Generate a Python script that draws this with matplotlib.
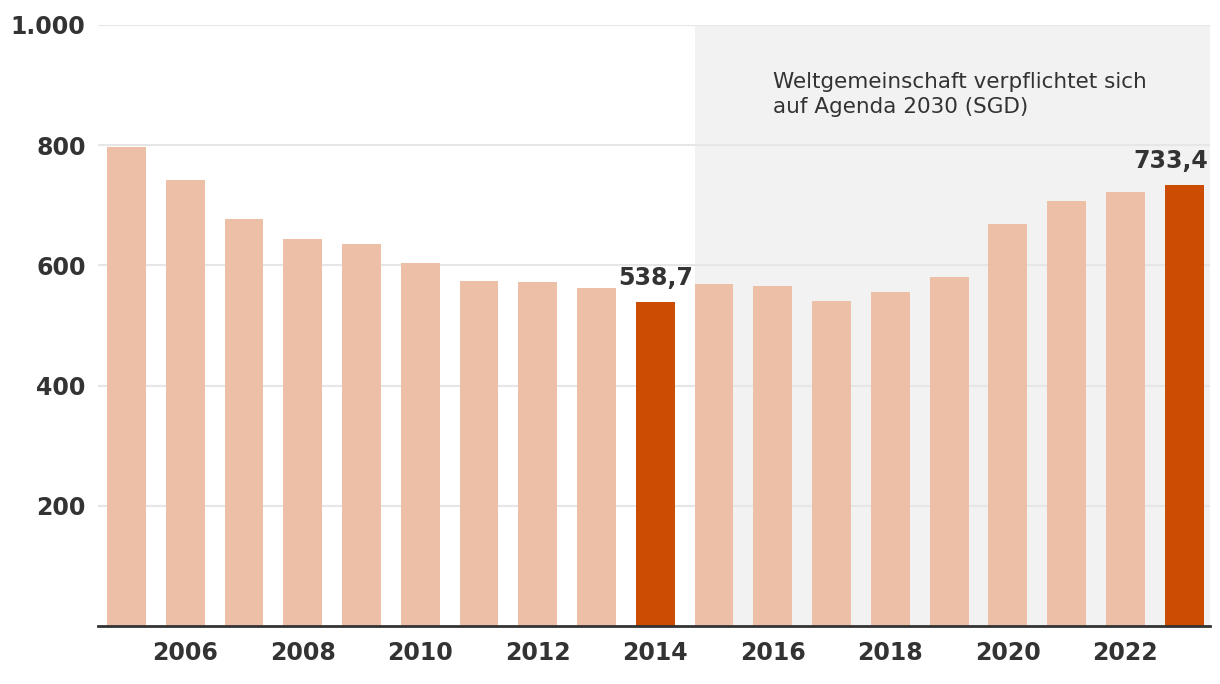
import numpy as np
import matplotlib.pyplot as plt

years = list(range(2005, 2024))
values = [797, 742, 677, 644, 636, 604, 574, 572, 562, 538.7,
          569, 566, 541, 556, 581, 669, 707, 722, 733.4]
highlight = [2014, 2023]
value_labels = {2014: "538,7", 2023: "733,4"}
yticks = [200, 400, 600, 800, 1000]
ytick_labels = ["200", "400", "600", "800", "1.000"]
xticks = list(range(2006, 2023, 2))
note = "Weltgemeinschaft verpflichtet sich\nauf Agenda 2030 (SGD)"

light = "#EDBFA6"
dark = "#CC4C02"
text_col = "#333333"

fig = plt.figure(figsize=(12.2, 6.84), dpi=100)
ax = fig.add_axes([98 / 1220, 1 - 626 / 684, 1112 / 1220, 601 / 684])

bar_w = 0.66
colors = [dark if y in highlight else light for y in years]

# shaded period after 2015
ax.axvspan(2015 - bar_w / 2, 2023.44, color="#F2F2F2", zorder=0, lw=0)
for t in yticks:
    ax.axhline(t, color="#E6E6E6", lw=1.5, zorder=1)

ax.bar(years, values, width=bar_w, color=colors, zorder=2)

for y, lab in value_labels.items():
    v = values[years.index(y)]
    xoff = -0.22 if y == 2023 else 0
    ax.text(y + xoff, v + 20, lab, ha="center", va="bottom",
            fontsize=17, fontweight="bold", color=text_col)

ax.text(2016.0, 922, note, ha="left", va="top", fontsize=15.5,
        color=text_col, linespacing=1.3)

ax.set_xlim(2005 - 0.485, 2023.44)
ax.set_ylim(0, 1000)
ax.set_yticks(yticks)
ax.set_yticklabels(ytick_labels)
ax.set_xticks(xticks)
ax.set_xticklabels([str(x) for x in xticks])
ax.tick_params(length=0, labelsize=17, labelcolor=text_col)
ax.tick_params(axis="y", pad=9)
ax.tick_params(axis="x", pad=11)
for lab in ax.get_xticklabels() + ax.get_yticklabels():
    lab.set_fontweight("bold")

for s in ["top", "right", "left"]:
    ax.spines[s].set_visible(False)
ax.spines["bottom"].set_color(text_col)
ax.spines["bottom"].set_linewidth(2)
ax.spines["bottom"].set_zorder(3)

fig.savefig("out.png", dpi=100)
